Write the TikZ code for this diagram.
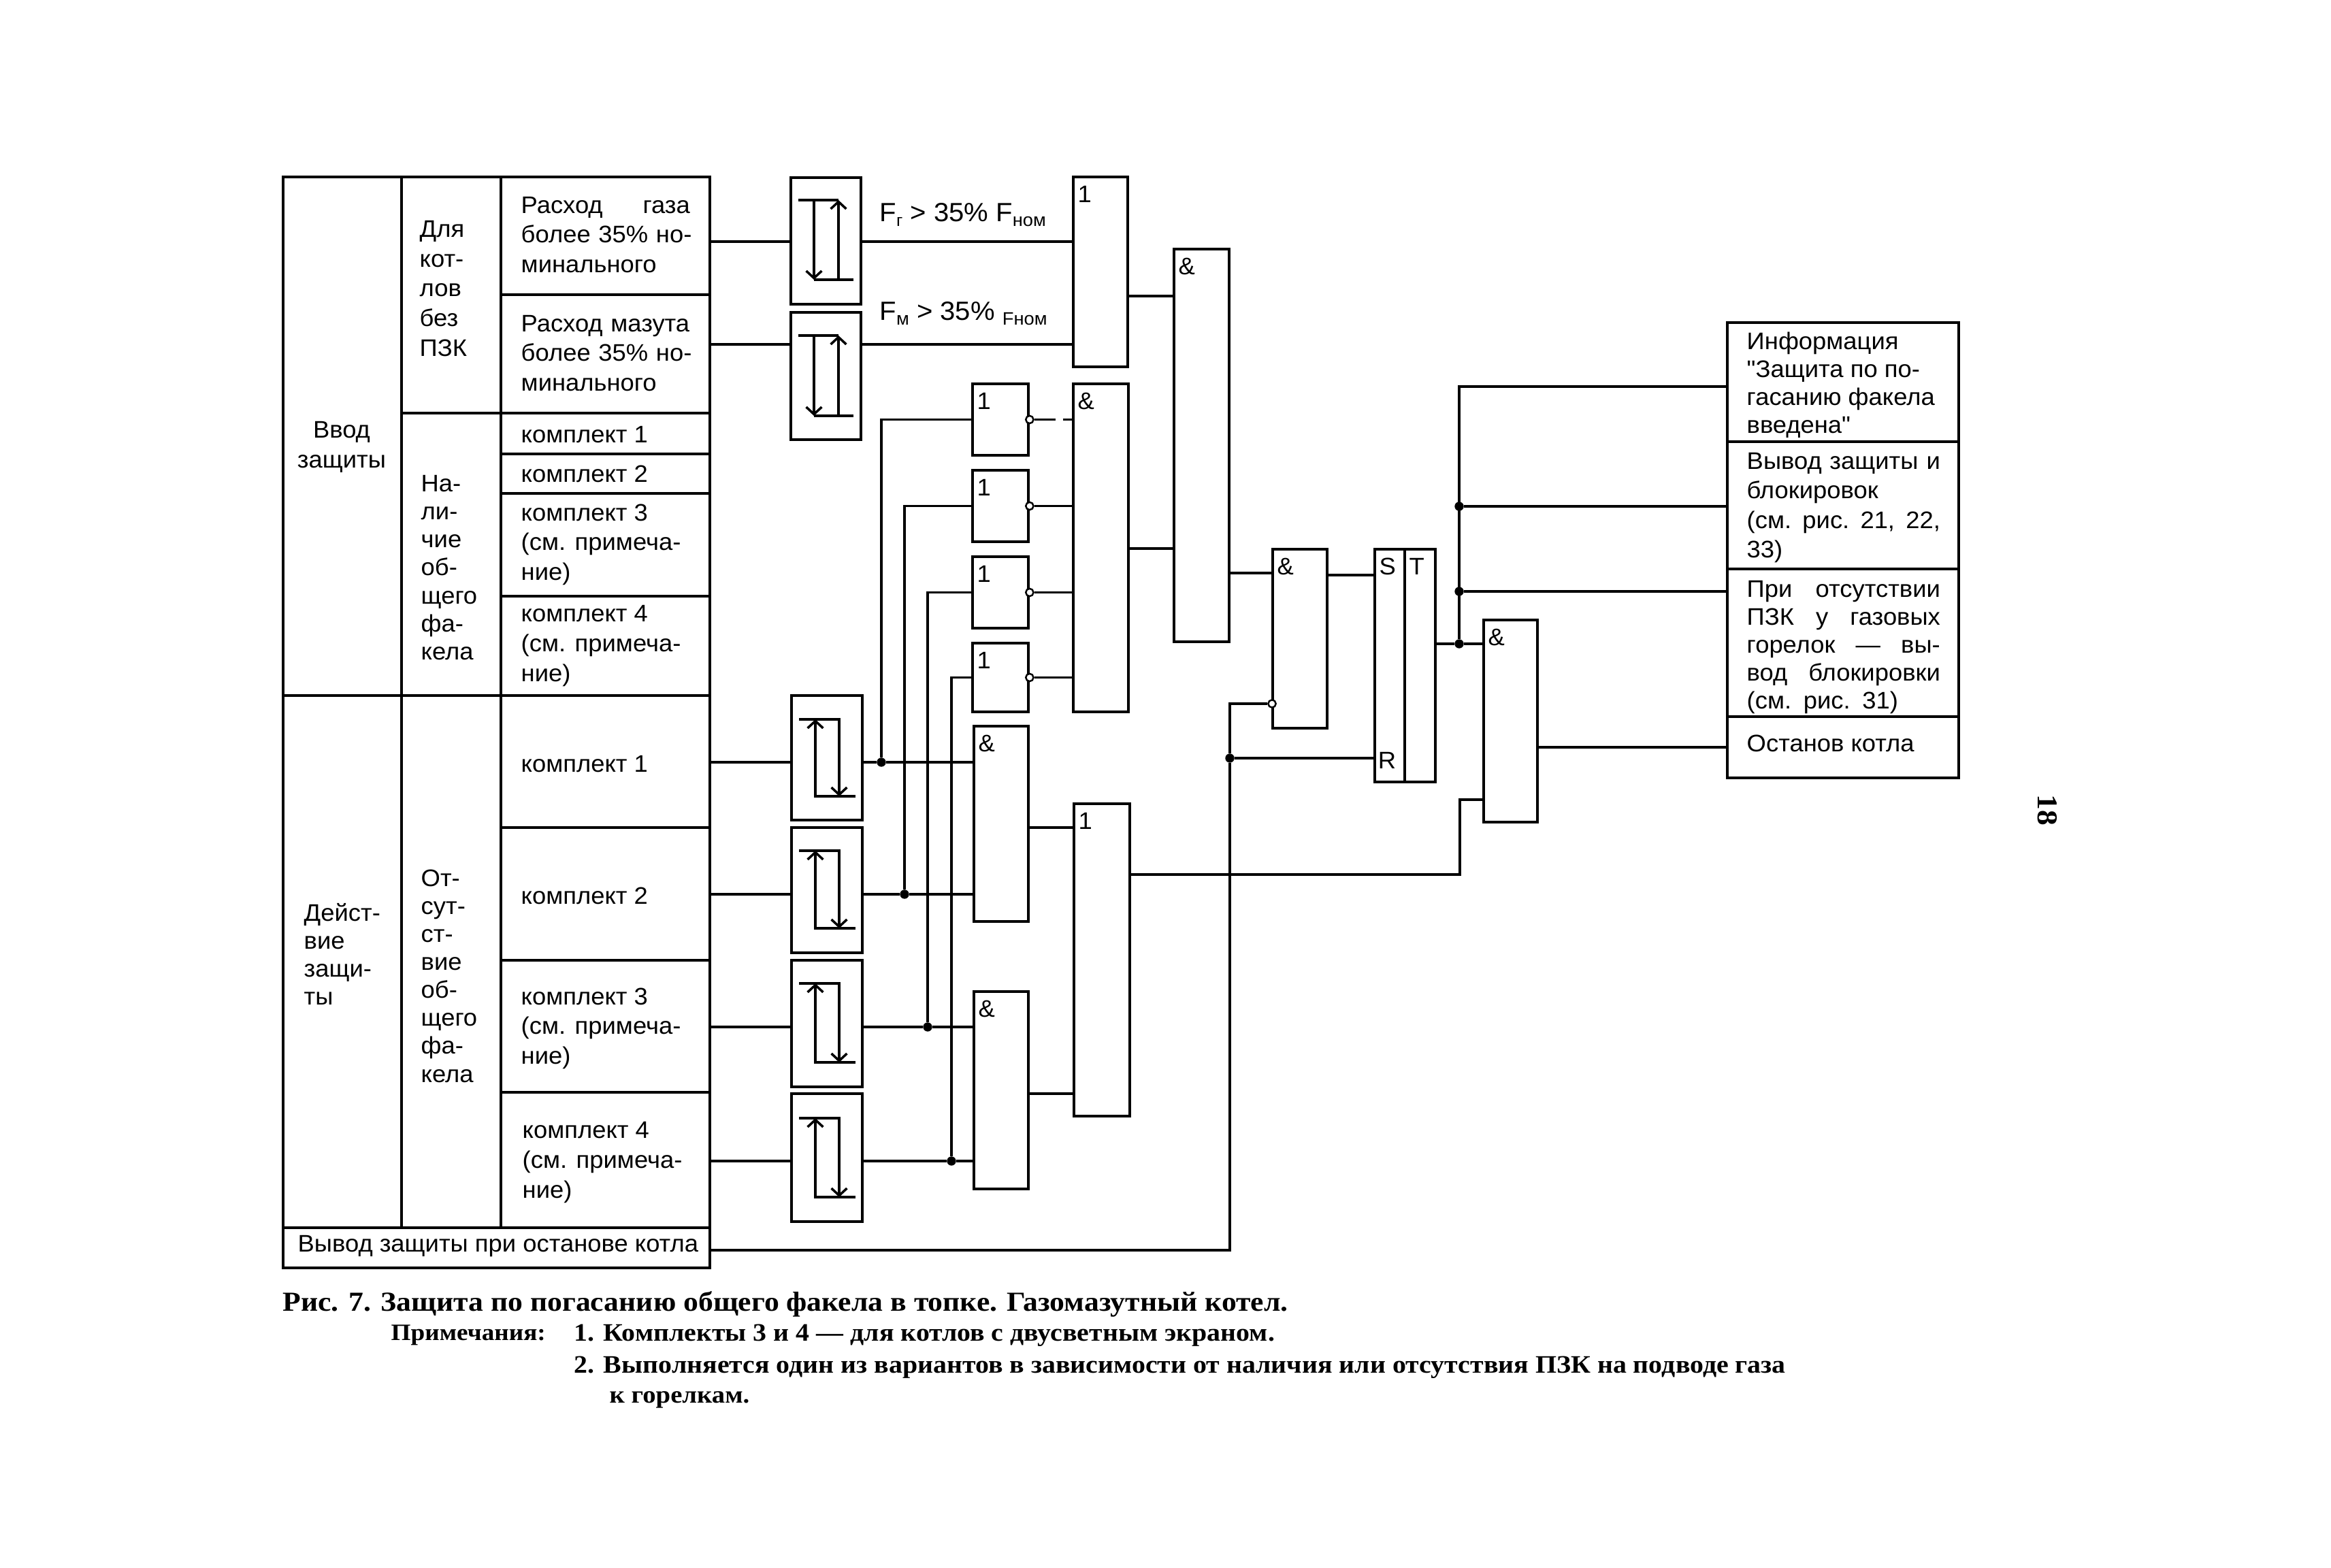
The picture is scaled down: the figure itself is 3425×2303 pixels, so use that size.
\documentclass[tikz,border=0pt]{standalone}
\usepackage{fontspec}
\setmainfont{Liberation Sans}[FakeStretch=1.035]
\newfontfamily\quotefont{Liberation Sans}[FakeStretch=1.035]
\newfontfamily\capfont{Liberation Serif}[FakeStretch=1.08]
\usetikzlibrary{positioning,arrows.meta,calc,fit}
\tikzset{
  wire/.style={line width=1pt},
  relayline/.style={line width=1pt},
  cell/.style={draw, line width=1.2pt, inner sep=0pt},
  gate/.style={draw, line width=1.05pt, inner sep=0pt},
  gatelabel/.style={anchor=north west, inner xsep=2.2pt, inner ysep=4pt, font=\fontsize{10}{12}\selectfont},
  txt/.style={anchor=west, align=left, inner sep=0pt, font=\fontsize{10}{12.4}\selectfont},
  tight/.style={font=\fontsize{10}{11.7}\selectfont},
  captxt/.style={anchor=west, inner sep=0pt, font=\capfont\bfseries\fontsize{10.5}{12}\selectfont},
  dot/.style={circle, fill=black, inner sep=0pt, minimum size=3.8pt},
  bubble/.style={circle, draw, fill=white, line width=0.7pt, inner sep=0pt, minimum size=3.2pt},
}
\begin{document}
\begin{tikzpicture}[x=0.01cm, y=-0.01cm, >={Straight Barb[length=3pt,width=6.5pt]}]
  \useasboundingbox (0,0) rectangle (3425,2303);

  % Left table: cells
  \node[cell, fit={(416,260)(590,1022)}] (inCol) {};
  \node[cell, fit={(416,1022)(590,1804)}] (actCol) {};
  \node[cell, fit={(590,260)(736,607)}] (noValve) {};
  \node[cell, fit={(590,607)(736,1022)}] (flameOn) {};
  \node[cell, fit={(590,1022)(736,1804)}] (flameOff) {};
  \node[cell, fit={(736,260)(1043,433)}] (gasCell) {};
  \node[cell, fit={(736,433)(1043,607)}] (oilCell) {};
  \node[cell, fit={(736,607)(1043,667)}] (setOnA) {};
  \node[cell, fit={(736,667)(1043,725)}] (setOnB) {};
  \node[cell, fit={(736,725)(1043,876)}] (setOnC) {};
  \node[cell, fit={(736,876)(1043,1022)}] (setOnD) {};
  \node[cell, fit={(736,1022)(1043,1216)}] (setOffA) {};
  \node[cell, fit={(736,1216)(1043,1411)}] (setOffB) {};
  \node[cell, fit={(736,1411)(1043,1605)}] (setOffC) {};
  \node[cell, fit={(736,1605)(1043,1804)}] (setOffD) {};
  \node[cell, fit={(416,1804)(1043,1863)}] (offCell) {};

  % Left table: texts
  \node[txt, anchor=center, align=center] (tInCol) at (502,657) {Ввод\\защиты};
  \node[txt, tight] (tActCol) at (446,1402) {Дейст-\\вие\\защи-\\ты};
  \node[txt] (tNoValve) at (616,424) {Для\\кот-\\лов\\без\\ПЗК};
  \node[txt, tight] (tFlameOn) at (618,834) {На-\\ли-\\чие\\об-\\щего\\фа-\\кела};
  \node[txt, tight] (tFlameOff) at (618,1434) {От-\\сут-\\ст-\\вие\\об-\\щего\\фа-\\кела};
  \node[txt, text width=2.48cm] (tGas) at (765,345) {\makebox[2.48cm][s]{Расход\hfill газа}\\\mbox{более 35\% но-}\\минального};
  \node[txt, text width=2.48cm] (tOil) at (765,519) {\mbox{Расход мазута}\\\mbox{более 35\% но-}\\минального};
  \node[txt] (tOnA) at (765,639) {комплект 1};
  \node[txt] (tOnB) at (765,696) {комплект 2};
  \node[txt] (tOnC) at (765,800) {комплект 3\\(см. примеча-\\ние)};
  \node[txt] (tOnD) at (765,949) {комплект 4\\(см. примеча-\\ние)};
  \node[txt] (tOffA) at (765,1123) {комплект 1};
  \node[txt] (tOffB) at (765,1316) {комплект 2};
  \node[txt] (tOffC) at (765,1511) {комплект 3\\(см. примеча-\\ние)};
  \node[txt] (tOffD) at (767,1708) {комплект 4\\(см. примеча-\\ние)};
  \node[txt] (tOff) at (437,1831) {Вывод защиты при останове котла};

  % Relays, upper pair
  \node[gate, fit={(1162,261)(1265,447)}] (relGas) {};
  \draw[relayline] (1173,294) -- (1232,294);
  \draw[relayline, ->] (1196,294) -- (1196,411);
  \draw[relayline] (1254,411) -- (1196,411);
  \draw[relayline, ->] (1232,411) -- (1232,294);
  \node[gate, fit={(1162,459)(1265,646)}] (relOil) {};
  \draw[relayline] (1173,493) -- (1232,493);
  \draw[relayline, ->] (1196,493) -- (1196,611);
  \draw[relayline] (1254,611) -- (1196,611);
  \draw[relayline, ->] (1232,611) -- (1232,493);

  % Relays, lower four
  \node[gate, fit={(1163,1022)(1267,1205)}] (relA) {};
  \draw[relayline, ->] (1174,1057) -- (1233,1057) -- (1233,1170);
  \draw[relayline, ->] (1257,1170) -- (1198,1170) -- (1198,1057);
  \node[gate, fit={(1163,1216)(1267,1400)}] (relB) {};
  \draw[relayline, ->] (1174,1250) -- (1233,1250) -- (1233,1364);
  \draw[relayline, ->] (1257,1364) -- (1198,1364) -- (1198,1250);
  \node[gate, fit={(1163,1411)(1267,1597)}] (relC) {};
  \draw[relayline, ->] (1174,1445) -- (1233,1445) -- (1233,1561);
  \draw[relayline, ->] (1257,1561) -- (1198,1561) -- (1198,1445);
  \node[gate, fit={(1163,1607)(1267,1795)}] (relD) {};
  \draw[relayline, ->] (1174,1643) -- (1233,1643) -- (1233,1759);
  \draw[relayline, ->] (1257,1759) -- (1198,1759) -- (1198,1643);

  % Logic gates
  \node[gate, fit={(1577,260)(1657,539)}, label={[gatelabel]north west:1}] (orFuel) {};
  \node[gate, fit={(1725,366)(1806,943)}, label={[gatelabel]north west:\&}] (andMain) {};
  \node[gate, fit={(1577,564)(1658,1046)}, label={[gatelabel]north west:\&}] (andSets) {};
  \node[gate, fit={(1429,564)(1511,669)}, label={[gatelabel]north west:1}] (notA) {};
  \node[gate, fit={(1429,691)(1511,796)}, label={[gatelabel]north west:1}] (notB) {};
  \node[gate, fit={(1429,818)(1511,923)}, label={[gatelabel]north west:1}] (notC) {};
  \node[gate, fit={(1429,945)(1511,1046)}, label={[gatelabel]north west:1}] (notD) {};
  \node[gate, fit={(1431,1067)(1511,1354)}, label={[gatelabel]north west:\&}] (andAB) {};
  \node[gate, fit={(1431,1457)(1511,1747)}, label={[gatelabel]north west:\&}] (andCD) {};
  \node[gate, fit={(1578,1181)(1660,1640)}, label={[gatelabel]north west:1}] (orLoss) {};
  \node[gate, fit={(1870,807)(1950,1070)}, label={[gatelabel]north west:\&}] (andIn) {};
  \node[gate, fit={(2020,807)(2064,1149)}, label={[gatelabel]north west:S}] (srBox) {};
  \node[gate, fit={(2064,807)(2109,1149)}, label={[gatelabel]north west:T}] (trBox) {};
  \node[gatelabel, anchor=center] (srR) at (2038,1117) {R};
  \node[gate, fit={(2180,911)(2259,1208)}, label={[gatelabel]north west:\&}] (andOut) {};

  % Output table
  \node[cell, fit={(2538,474)(2878,649)}] (infoOn) {};
  \node[cell, fit={(2538,649)(2878,836)}] (infoOff) {};
  \node[cell, fit={(2538,836)(2878,1053)}] (infoValve) {};
  \node[cell, fit={(2538,1053)(2878,1143)}] (infoStop) {};
  \node[txt, tight] (tInfoOn) at (2566,566) {Информация\\{\quotefont"}Защита по по-\\гасанию факела\\введена{\quotefont"}};
  \node[txt, text width=2.84cm] (tInfoOff) at (2566,746) {\makebox[2.84cm][s]{Вывод защиты\hfill и}\\блокировок\\\makebox[2.84cm][s]{(см.\hfill рис.\hfill 21,\hfill 22,}\\33)};
  \node[txt, text width=2.84cm, tight] (tInfoValve) at (2566,951) {При\hfill отсутствии\\ПЗК\hfill у\hfill газовых\\горелок\hfill —\hfill вы-\\вод\hfill блокировки\\(см. рис. 31)};
  \node[txt] (tInfoStop) at (2566,1092) {Останов котла};

  % Junctions and inverted inputs
  \node[dot] (dotA) at (1295,1120) {};
  \node[dot] (dotB) at (1329,1314) {};
  \node[dot] (dotC) at (1363,1509) {};
  \node[dot] (dotD) at (1398,1706) {};
  \node[dot] (dotR) at (1807,1114) {};
  \node[dot] (dotT) at (2144,946) {};
  \node[dot] (dotOff) at (2144,744) {};
  \node[dot] (dotValve) at (2144,869) {};
  \node[bubble] (bubA) at (notA.east) {};
  \node[bubble] (bubB) at (notB.east) {};
  \node[bubble] (bubC) at (notC.east) {};
  \node[bubble] (bubD) at (notD.east) {};
  \node[bubble] (bubIn) at (1869,1034) {};

  % Levels of the connectors
  \coordinate (lvlGas) at (1100,355);
  \coordinate (lvlOil) at (1100,506);
  \coordinate (lvlFuel) at (1700,435);
  \coordinate (lvlSets) at (1700,806);
  \coordinate (lvlMain) at (1830,842);
  \coordinate (lvlS) at (1980,845);
  \coordinate (lvlAB) at (1540,1216);
  \coordinate (lvlCD) at (1540,1607);
  \coordinate (lvlOff) at (1100,1837);
  \coordinate (lvlLoss) at (1700,1285);
  \coordinate (cnrLoss) at (2145,1175);
  \coordinate (cnrOn) at (2144,568);

  % Connectors, left part
  \draw[wire] (gasCell.east |- lvlGas) -- (relGas.west |- lvlGas);
  \draw[wire] (relGas.east |- lvlGas) -- (orFuel.west |- lvlGas);
  \draw[wire] (oilCell.east |- lvlOil) -- (relOil.west |- lvlOil);
  \draw[wire] (relOil.east |- lvlOil) -- (orFuel.west |- lvlOil);
  \draw[wire] (setOffA.east |- dotA) -- (relA.west |- dotA);
  \draw[wire] (relA.east |- dotA) -- (dotA) -- (andAB.west |- dotA);
  \draw[wire] (setOffB.east |- dotB) -- (relB.west |- dotB);
  \draw[wire] (relB.east |- dotB) -- (dotB) -- (andAB.west |- dotB);
  \draw[wire] (setOffC.east |- dotC) -- (relC.west |- dotC);
  \draw[wire] (relC.east |- dotC) -- (dotC) -- (andCD.west |- dotC);
  \draw[wire] (setOffD.east |- dotD) -- (relD.west |- dotD);
  \draw[wire] (relD.east |- dotD) -- (dotD) -- (andCD.west |- dotD);

  % Connectors, buses up to the inverters
  \draw[wire] (dotA) |- (notA);
  \draw[wire] (dotB) |- (notB);
  \draw[wire] (dotC) |- (notC);
  \draw[wire] (dotD) |- (notD);
  \draw[wire, dash pattern=on 8.8pt off 3.1pt on 30pt] (bubA) -- (andSets.west |- bubA);
  \draw[wire] (bubB) -- (andSets.west |- bubB);
  \draw[wire] (bubC) -- (andSets.west |- bubC);
  \draw[wire] (bubD) -- (andSets.west |- bubD);

  % Connectors, right part
  \draw[wire] (orFuel.east |- lvlFuel) -- (andMain.west |- lvlFuel);
  \draw[wire] (andSets.east |- lvlSets) -- (andMain.west |- lvlSets);
  \draw[wire] (andMain.east |- lvlMain) -- (andIn.west |- lvlMain);
  \draw[wire] (andAB.east |- lvlAB) -- (orLoss.west |- lvlAB);
  \draw[wire] (andCD.east |- lvlCD) -- (orLoss.west |- lvlCD);
  \draw[wire] (andIn.east |- lvlS) -- (srBox.west |- lvlS);
  \draw[wire] (offCell.east |- lvlOff) -| (dotR);
  \draw[wire] (dotR) |- (bubIn);
  \draw[wire] (dotR) -- (srBox.west |- dotR);
  \draw[wire] (trBox.east |- dotT) -- (dotT) -- (andOut.west |- dotT);
  \draw[wire] (dotT) -- (cnrOn) -- (infoOn.west |- cnrOn);
  \draw[wire] (dotOff) -- (infoOff.west |- dotOff);
  \draw[wire] (dotValve) -- (infoValve.west |- dotValve);
  \draw[wire] (orLoss.east |- lvlLoss) -| (cnrLoss) -- (andOut.west |- cnrLoss);
  \draw[wire] (andOut.east |- infoStop) -- (infoStop);

  % Signal labels
  \node[txt, font=\fontsize{11}{13}\selectfont] (lblGas) at (1292,316) {F\raisebox{-0.35ex}{\fontsize{7}{8}\selectfont г} > 35\% F\raisebox{-0.35ex}{\fontsize{7.5}{8}\selectfont ном}};
  \node[txt, font=\fontsize{11}{13}\selectfont] (lblOil) at (1292,461) {F\raisebox{-0.35ex}{\fontsize{7.5}{8}\selectfont м} > 35\% \raisebox{-0.35ex}{\fontsize{7.5}{8}\selectfont Fном}};

  % Caption
  \node[captxt, font=\capfont\bfseries\fontsize{11.5}{13}\selectfont] (capMain) at (415,1916) {Рис. 7. Защита по погасанию общего факела в топке. Газомазутный котел.};
  \node[captxt, font=\capfont\bfseries\fontsize{9.8}{12}\selectfont] (capHead) at (574,1962) {Примечания:};
  \node[captxt] (capOne) at (843,1962) {1. Комплекты 3 и 4 — для котлов с двусветным экраном.};
  \node[captxt] (capTwo) at (843,2009) {2. Выполняется один из вариантов в зависимости от наличия или отсутствия ПЗК на подводе газа};
  \node[captxt, font=\capfont\bfseries\fontsize{10.2}{12}\selectfont] (capThree) at (895,2057) {к горелкам.};
  \node[captxt, anchor=center, rotate=-90, font=\capfont\bfseries\fontsize{12}{13}\selectfont] (pageNo) at (3008,1190) {18};
\end{tikzpicture}
\end{document}
